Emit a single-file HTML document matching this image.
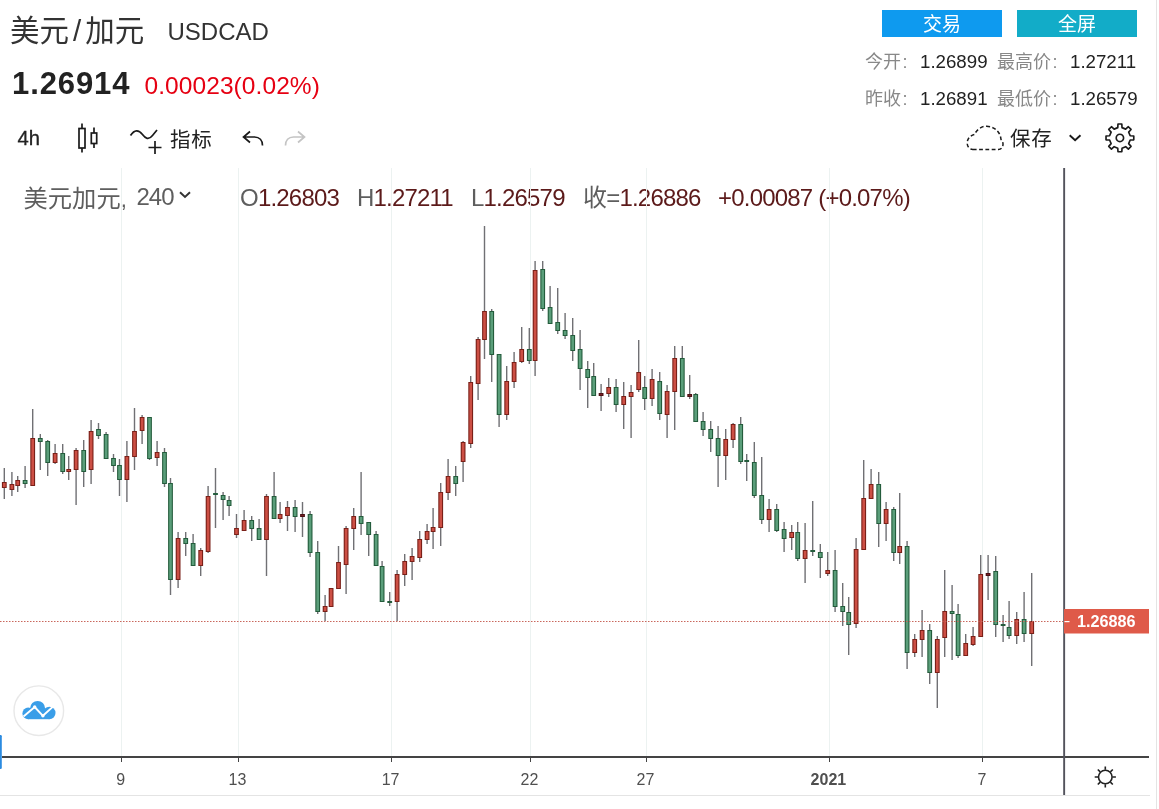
<!DOCTYPE html>
<html lang="zh-CN">
<head>
<meta charset="utf-8">
<title>美元/加元 USDCAD</title>
<style>
html,body{margin:0;padding:0;background:#fff;}
body{width:1159px;height:809px;position:relative;overflow:hidden;font-family:"Liberation Sans","Noto Sans CJK SC",sans-serif;color:#222;}
.abs{position:absolute;white-space:nowrap;line-height:1;}
.btn{position:absolute;top:10px;height:27px;width:120px;color:#fff;font-size:19px;line-height:29.6px;text-align:center;}
svg text{font-family:"Liberation Sans","Noto Sans CJK SC",sans-serif;}
.g{color:#888;}
</style>
</head>
<body>
<div class="abs" id="t1" style="left:10px;top:16px;font-size:29.5px;color:#333;">美元<span style="margin:0 4px 0 4px">/</span>加元</div>
<div class="abs" id="t2" style="left:167.5px;top:19.5px;font-size:24px;color:#333;">USDCAD</div>
<div class="abs" id="t3" style="left:12px;top:68px;font-size:31px;font-weight:bold;color:#222;letter-spacing:0.9px;">1.26914</div>
<div class="abs" id="t4" style="left:144.5px;top:73.5px;font-size:24.5px;color:#e60012;letter-spacing:0.08px;">0.00023(0.02%)</div>

<div class="btn" style="left:882px;background:#0e9aef;">交易</div>
<div class="btn" style="left:1017px;background:#12acc8;">全屏</div>

<div class="abs" id="r1a" style="left:865px;top:53.3px;font-size:18px;color:#888;">今开<span style="margin-left:1.5px">:</span></div>
<div class="abs" id="r1b" style="left:920px;top:53px;font-size:18.7px;color:#222;">1.26899</div>
<div class="abs" id="r1c" style="left:997px;top:53.3px;font-size:18px;color:#888;">最高价<span style="margin-left:1.5px">:</span></div>
<div class="abs" id="r1d" style="left:1070px;top:53px;font-size:18.7px;color:#222;">1.27211</div>
<div class="abs" id="r2a" style="left:865px;top:90.3px;font-size:18px;color:#888;">昨收<span style="margin-left:1.5px">:</span></div>
<div class="abs" id="r2b" style="left:920px;top:90px;font-size:18.7px;color:#222;">1.26891</div>
<div class="abs" id="r2c" style="left:997px;top:90.3px;font-size:18px;color:#888;">最低价<span style="margin-left:1.5px">:</span></div>
<div class="abs" id="r2d" style="left:1070px;top:90px;font-size:18.7px;color:#222;">1.26579</div>

<div class="abs" id="tb1" style="left:17.5px;top:128.3px;font-size:20.2px;-webkit-text-stroke:0.3px #222;color:#222;">4h</div>
<div class="abs" id="tb2" style="left:170px;top:129.5px;font-size:20.5px;letter-spacing:0.8px;color:#222;">指标</div>
<div class="abs" id="tb3" style="left:1010px;top:129.3px;font-size:20.5px;letter-spacing:0.8px;color:#222;">保存</div>

<div class="abs" id="lg1" style="left:23.5px;top:187.3px;font-size:24.3px;color:#5e5e5e;">美元加元<span style="font-size:22px">,</span></div>
<div class="abs" id="lg1b" style="left:136.5px;top:184.5px;font-size:24px;letter-spacing:-1px;color:#5e5e5e;">240</div>
<div class="abs" id="lg2" style="left:240px;top:185.9px;font-size:24px;letter-spacing:-0.8px;color:#5e5e5e;">O<span style="color:#5c1a1a">1.26803</span></div>
<div class="abs" id="lg3" style="left:357px;top:185.9px;font-size:24px;letter-spacing:-0.8px;color:#5e5e5e;">H<span style="color:#5c1a1a">1.27211</span></div>
<div class="abs" id="lg4" style="left:471px;top:185.9px;font-size:24px;letter-spacing:-0.8px;color:#5e5e5e;">L<span style="color:#5c1a1a">1.26579</span></div>
<div class="abs" id="lg5" style="left:583px;top:185.9px;font-size:24px;letter-spacing:-0.8px;color:#5e5e5e;">收=<span style="color:#5c1a1a">1.26886</span></div>
<div class="abs" id="lg6" style="left:718px;top:185.9px;font-size:24px;letter-spacing:-0.8px;color:#5c1a1a;">+0.00087 (+0.07%)</div>

<svg class="abs" style="left:0;top:0" width="1159" height="809" viewBox="0 0 1159 809">
<!-- grid -->
<rect x="121" y="168" width="1" height="589" fill="#ecf2f1"/>
<rect x="238" y="168" width="1" height="589" fill="#ecf2f1"/>
<rect x="391" y="168" width="1" height="589" fill="#ecf2f1"/>
<rect x="530" y="168" width="1" height="589" fill="#ecf2f1"/>
<rect x="646" y="168" width="1" height="589" fill="#ecf2f1"/>
<rect x="829" y="168" width="1" height="589" fill="#ecf2f1"/>
<rect x="982" y="168" width="1" height="589" fill="#ecf2f1"/>
<!-- candles -->
<g fill="#707074"><rect x="3.6" y="468" width="1.4" height="31"/>
<rect x="11.2" y="472" width="1.4" height="24"/>
<rect x="17.0" y="476" width="1.4" height="16"/>
<rect x="24.4" y="466" width="1.4" height="22"/>
<rect x="32.0" y="409" width="1.4" height="77"/>
<rect x="39.6" y="434" width="1.4" height="36"/>
<rect x="47.0" y="440" width="1.4" height="36"/>
<rect x="54.4" y="444" width="1.4" height="20"/>
<rect x="62.0" y="444" width="1.4" height="30"/>
<rect x="68.0" y="456" width="1.4" height="24"/>
<rect x="75.4" y="448" width="1.4" height="57"/>
<rect x="83.0" y="440" width="1.4" height="47"/>
<rect x="90.4" y="420" width="1.4" height="64"/>
<rect x="97.8" y="423" width="1.4" height="16"/>
<rect x="105.4" y="432" width="1.4" height="27"/>
<rect x="112.8" y="454" width="1.4" height="18"/>
<rect x="118.8" y="459" width="1.4" height="37"/>
<rect x="126.2" y="441" width="1.4" height="61"/>
<rect x="133.8" y="408" width="1.4" height="62"/>
<rect x="141.4" y="415" width="1.4" height="29"/>
<rect x="148.8" y="417" width="1.4" height="43"/>
<rect x="156.4" y="441" width="1.4" height="25"/>
<rect x="163.8" y="448" width="1.4" height="39"/>
<rect x="169.8" y="478" width="1.4" height="117"/>
<rect x="177.4" y="532" width="1.4" height="56"/>
<rect x="185.0" y="532" width="1.4" height="24"/>
<rect x="192.4" y="534" width="1.4" height="32"/>
<rect x="200.0" y="548" width="1.4" height="28"/>
<rect x="207.4" y="486" width="1.4" height="67"/>
<rect x="214.8" y="468" width="1.4" height="60"/>
<rect x="222.4" y="492" width="1.4" height="28"/>
<rect x="228.4" y="496" width="1.4" height="20"/>
<rect x="235.8" y="514" width="1.4" height="24"/>
<rect x="243.4" y="510" width="1.4" height="21"/>
<rect x="251.0" y="516" width="1.4" height="25"/>
<rect x="258.4" y="519" width="1.4" height="21"/>
<rect x="265.8" y="494" width="1.4" height="82"/>
<rect x="273.4" y="472" width="1.4" height="47"/>
<rect x="279.4" y="502" width="1.4" height="21"/>
<rect x="286.8" y="501" width="1.4" height="30"/>
<rect x="294.4" y="500" width="1.4" height="32"/>
<rect x="301.8" y="502" width="1.4" height="35"/>
<rect x="309.4" y="511" width="1.4" height="46"/>
<rect x="317.0" y="541" width="1.4" height="73"/>
<rect x="324.4" y="595" width="1.4" height="26"/>
<rect x="330.4" y="588" width="1.4" height="19"/>
<rect x="337.8" y="546" width="1.4" height="43"/>
<rect x="345.4" y="526" width="1.4" height="68"/>
<rect x="353.0" y="508" width="1.4" height="42"/>
<rect x="360.4" y="472" width="1.4" height="63"/>
<rect x="368.0" y="522" width="1.4" height="34"/>
<rect x="375.4" y="531" width="1.4" height="35"/>
<rect x="381.4" y="561" width="1.4" height="41"/>
<rect x="389.0" y="592" width="1.4" height="14"/>
<rect x="396.4" y="570" width="1.4" height="51"/>
<rect x="404.0" y="554" width="1.4" height="32"/>
<rect x="411.4" y="548" width="1.4" height="32"/>
<rect x="419.0" y="531" width="1.4" height="31"/>
<rect x="426.4" y="524" width="1.4" height="20"/>
<rect x="432.4" y="508" width="1.4" height="41"/>
<rect x="440.0" y="483" width="1.4" height="63"/>
<rect x="447.4" y="459" width="1.4" height="41"/>
<rect x="455.0" y="466" width="1.4" height="30"/>
<rect x="462.4" y="441" width="1.4" height="41"/>
<rect x="470.0" y="376" width="1.4" height="72"/>
<rect x="477.4" y="337" width="1.4" height="63"/>
<rect x="483.8" y="226" width="1.4" height="133"/>
<rect x="491.0" y="309" width="1.4" height="73"/>
<rect x="498.4" y="354" width="1.4" height="73"/>
<rect x="506.0" y="366" width="1.4" height="54"/>
<rect x="513.4" y="352" width="1.4" height="36"/>
<rect x="521.0" y="327" width="1.4" height="36"/>
<rect x="528.6" y="328" width="1.4" height="36"/>
<rect x="534.4" y="261" width="1.4" height="115"/>
<rect x="542.0" y="261" width="1.4" height="50"/>
<rect x="549.4" y="286" width="1.4" height="38"/>
<rect x="557.0" y="288" width="1.4" height="46"/>
<rect x="564.4" y="313" width="1.4" height="26"/>
<rect x="572.0" y="318" width="1.4" height="43"/>
<rect x="579.4" y="330" width="1.4" height="60"/>
<rect x="587.0" y="361" width="1.4" height="47"/>
<rect x="593.0" y="363" width="1.4" height="33"/>
<rect x="600.4" y="384" width="1.4" height="27"/>
<rect x="608.0" y="378" width="1.4" height="19"/>
<rect x="615.4" y="379" width="1.4" height="33"/>
<rect x="623.0" y="382" width="1.4" height="47"/>
<rect x="630.4" y="385" width="1.4" height="53"/>
<rect x="638.0" y="340" width="1.4" height="52"/>
<rect x="644.0" y="376" width="1.4" height="34"/>
<rect x="651.4" y="369" width="1.4" height="37"/>
<rect x="659.0" y="372" width="1.4" height="48"/>
<rect x="666.4" y="385" width="1.4" height="53"/>
<rect x="674.0" y="346" width="1.4" height="84"/>
<rect x="681.6" y="346" width="1.4" height="51"/>
<rect x="689.0" y="375" width="1.4" height="24"/>
<rect x="695.0" y="393" width="1.4" height="29"/>
<rect x="702.4" y="412" width="1.4" height="24"/>
<rect x="710.0" y="421" width="1.4" height="31"/>
<rect x="717.4" y="426" width="1.4" height="61"/>
<rect x="725.0" y="429" width="1.4" height="51"/>
<rect x="732.4" y="423" width="1.4" height="25"/>
<rect x="740.0" y="417" width="1.4" height="47"/>
<rect x="746.0" y="454" width="1.4" height="27"/>
<rect x="753.6" y="442" width="1.4" height="56"/>
<rect x="761.0" y="457" width="1.4" height="67"/>
<rect x="768.4" y="499" width="1.4" height="33"/>
<rect x="776.0" y="504" width="1.4" height="28"/>
<rect x="783.4" y="522" width="1.4" height="30"/>
<rect x="791.0" y="525" width="1.4" height="25"/>
<rect x="797.0" y="522" width="1.4" height="39"/>
<rect x="804.4" y="523" width="1.4" height="60"/>
<rect x="812.0" y="501" width="1.4" height="55"/>
<rect x="819.6" y="544" width="1.4" height="34"/>
<rect x="827.0" y="552" width="1.4" height="24"/>
<rect x="834.4" y="550" width="1.4" height="62"/>
<rect x="842.0" y="583" width="1.4" height="43"/>
<rect x="848.0" y="597" width="1.4" height="58"/>
<rect x="855.4" y="538" width="1.4" height="90"/>
<rect x="863.0" y="460" width="1.4" height="90"/>
<rect x="870.4" y="469" width="1.4" height="30"/>
<rect x="878.0" y="472" width="1.4" height="75"/>
<rect x="885.4" y="502" width="1.4" height="39"/>
<rect x="893.0" y="507" width="1.4" height="54"/>
<rect x="899.0" y="493" width="1.4" height="71"/>
<rect x="906.4" y="541" width="1.4" height="128"/>
<rect x="914.0" y="634" width="1.4" height="23"/>
<rect x="921.4" y="610" width="1.4" height="47"/>
<rect x="929.0" y="624" width="1.4" height="60"/>
<rect x="936.6" y="636" width="1.4" height="72"/>
<rect x="944.0" y="570" width="1.4" height="87"/>
<rect x="951.4" y="585" width="1.4" height="75"/>
<rect x="957.4" y="604" width="1.4" height="54"/>
<rect x="965.0" y="634" width="1.4" height="22"/>
<rect x="972.4" y="627" width="1.4" height="19"/>
<rect x="980.0" y="555" width="1.4" height="82"/>
<rect x="987.4" y="555" width="1.4" height="45"/>
<rect x="995.0" y="556" width="1.4" height="81"/>
<rect x="1002.4" y="615" width="1.4" height="27"/>
<rect x="1008.4" y="601" width="1.4" height="38"/>
<rect x="1016.0" y="612" width="1.4" height="32"/>
<rect x="1023.4" y="592" width="1.4" height="50"/>
<rect x="1031.0" y="573" width="1.4" height="93"/></g>
<rect x="1.9" y="482" width="4.8" height="6" fill="#7a2018"/>
<rect x="3.0" y="483" width="2.6" height="4" fill="#cc4f44"/>
<rect x="9.5" y="484" width="4.8" height="6" fill="#7a2018"/>
<rect x="10.6" y="485" width="2.6" height="4" fill="#cc4f44"/>
<rect x="15.3" y="480" width="4.8" height="6" fill="#7a2018"/>
<rect x="16.4" y="481" width="2.6" height="4" fill="#cc4f44"/>
<rect x="22.7" y="480" width="4.8" height="4" fill="#245c3c"/>
<rect x="23.8" y="481" width="2.6" height="2" fill="#5a9e7a"/>
<rect x="30.3" y="438" width="4.8" height="48" fill="#7a2018"/>
<rect x="31.4" y="439" width="2.6" height="46" fill="#cc4f44"/>
<rect x="37.9" y="438" width="4.8" height="4" fill="#245c3c"/>
<rect x="39.0" y="439" width="2.6" height="2" fill="#5a9e7a"/>
<rect x="45.3" y="441" width="4.8" height="22" fill="#245c3c"/>
<rect x="46.4" y="442" width="2.6" height="20" fill="#5a9e7a"/>
<rect x="52.7" y="453" width="4.8" height="10" fill="#7a2018"/>
<rect x="53.8" y="454" width="2.6" height="8" fill="#cc4f44"/>
<rect x="60.3" y="453" width="4.8" height="19" fill="#245c3c"/>
<rect x="61.4" y="454" width="2.6" height="17" fill="#5a9e7a"/>
<rect x="66.3" y="469" width="4.8" height="3" fill="#7a2018"/>
<rect x="67.4" y="470" width="2.6" height="1" fill="#cc4f44"/>
<rect x="73.7" y="450" width="4.8" height="20" fill="#7a2018"/>
<rect x="74.8" y="451" width="2.6" height="18" fill="#cc4f44"/>
<rect x="81.3" y="450" width="4.8" height="22" fill="#245c3c"/>
<rect x="82.4" y="451" width="2.6" height="20" fill="#5a9e7a"/>
<rect x="88.7" y="431" width="4.8" height="39" fill="#7a2018"/>
<rect x="89.8" y="432" width="2.6" height="37" fill="#cc4f44"/>
<rect x="96.1" y="429" width="4.8" height="7" fill="#245c3c"/>
<rect x="97.2" y="430" width="2.6" height="5" fill="#5a9e7a"/>
<rect x="103.7" y="434" width="4.8" height="25" fill="#245c3c"/>
<rect x="104.8" y="435" width="2.6" height="23" fill="#5a9e7a"/>
<rect x="111.1" y="458" width="4.8" height="8" fill="#245c3c"/>
<rect x="112.2" y="459" width="2.6" height="6" fill="#5a9e7a"/>
<rect x="117.1" y="465" width="4.8" height="15" fill="#245c3c"/>
<rect x="118.2" y="466" width="2.6" height="13" fill="#5a9e7a"/>
<rect x="124.5" y="456" width="4.8" height="24" fill="#7a2018"/>
<rect x="125.6" y="457" width="2.6" height="22" fill="#cc4f44"/>
<rect x="132.1" y="431" width="4.8" height="26" fill="#7a2018"/>
<rect x="133.2" y="432" width="2.6" height="24" fill="#cc4f44"/>
<rect x="139.7" y="417" width="4.8" height="14" fill="#7a2018"/>
<rect x="140.8" y="418" width="2.6" height="12" fill="#cc4f44"/>
<rect x="147.1" y="417" width="4.8" height="42" fill="#245c3c"/>
<rect x="148.2" y="418" width="2.6" height="40" fill="#5a9e7a"/>
<rect x="154.7" y="452" width="4.8" height="6" fill="#7a2018"/>
<rect x="155.8" y="453" width="2.6" height="4" fill="#cc4f44"/>
<rect x="162.1" y="452" width="4.8" height="32" fill="#245c3c"/>
<rect x="163.2" y="453" width="2.6" height="30" fill="#5a9e7a"/>
<rect x="168.1" y="483" width="4.8" height="97" fill="#245c3c"/>
<rect x="169.2" y="484" width="2.6" height="95" fill="#5a9e7a"/>
<rect x="175.7" y="538" width="4.8" height="42" fill="#7a2018"/>
<rect x="176.8" y="539" width="2.6" height="40" fill="#cc4f44"/>
<rect x="183.3" y="538" width="4.8" height="6" fill="#245c3c"/>
<rect x="184.4" y="539" width="2.6" height="4" fill="#5a9e7a"/>
<rect x="190.7" y="543" width="4.8" height="23" fill="#245c3c"/>
<rect x="191.8" y="544" width="2.6" height="21" fill="#5a9e7a"/>
<rect x="198.3" y="550" width="4.8" height="16" fill="#7a2018"/>
<rect x="199.4" y="551" width="2.6" height="14" fill="#cc4f44"/>
<rect x="205.7" y="496" width="4.8" height="56" fill="#7a2018"/>
<rect x="206.8" y="497" width="2.6" height="54" fill="#cc4f44"/>
<rect x="213.1" y="493" width="4.8" height="2" fill="#245c3c"/>
<rect x="220.7" y="495" width="4.8" height="5" fill="#245c3c"/>
<rect x="221.8" y="496" width="2.6" height="3" fill="#5a9e7a"/>
<rect x="226.7" y="500" width="4.8" height="6" fill="#245c3c"/>
<rect x="227.8" y="501" width="2.6" height="4" fill="#5a9e7a"/>
<rect x="234.1" y="528" width="4.8" height="7" fill="#7a2018"/>
<rect x="235.2" y="529" width="2.6" height="5" fill="#cc4f44"/>
<rect x="241.7" y="520" width="4.8" height="11" fill="#7a2018"/>
<rect x="242.8" y="521" width="2.6" height="9" fill="#cc4f44"/>
<rect x="249.3" y="520" width="4.8" height="9" fill="#245c3c"/>
<rect x="250.4" y="521" width="2.6" height="7" fill="#5a9e7a"/>
<rect x="256.7" y="528" width="4.8" height="12" fill="#245c3c"/>
<rect x="257.8" y="529" width="2.6" height="10" fill="#5a9e7a"/>
<rect x="264.1" y="496" width="4.8" height="44" fill="#7a2018"/>
<rect x="265.2" y="497" width="2.6" height="42" fill="#cc4f44"/>
<rect x="271.7" y="496" width="4.8" height="23" fill="#245c3c"/>
<rect x="272.8" y="497" width="2.6" height="21" fill="#5a9e7a"/>
<rect x="277.7" y="514" width="4.8" height="5" fill="#7a2018"/>
<rect x="278.8" y="515" width="2.6" height="3" fill="#cc4f44"/>
<rect x="285.1" y="507" width="4.8" height="9" fill="#7a2018"/>
<rect x="286.2" y="508" width="2.6" height="7" fill="#cc4f44"/>
<rect x="292.7" y="507" width="4.8" height="10" fill="#245c3c"/>
<rect x="293.8" y="508" width="2.6" height="8" fill="#5a9e7a"/>
<rect x="300.1" y="514" width="4.8" height="3" fill="#4a1014"/>
<rect x="301.2" y="515" width="2.6" height="1" fill="#7a1f24"/>
<rect x="307.7" y="514" width="4.8" height="39" fill="#245c3c"/>
<rect x="308.8" y="515" width="2.6" height="37" fill="#5a9e7a"/>
<rect x="315.3" y="552" width="4.8" height="60" fill="#245c3c"/>
<rect x="316.4" y="553" width="2.6" height="58" fill="#5a9e7a"/>
<rect x="322.7" y="606" width="4.8" height="6" fill="#7a2018"/>
<rect x="323.8" y="607" width="2.6" height="4" fill="#cc4f44"/>
<rect x="328.7" y="588" width="4.8" height="19" fill="#7a2018"/>
<rect x="329.8" y="589" width="2.6" height="17" fill="#cc4f44"/>
<rect x="336.1" y="562" width="4.8" height="27" fill="#7a2018"/>
<rect x="337.2" y="563" width="2.6" height="25" fill="#cc4f44"/>
<rect x="343.7" y="528" width="4.8" height="37" fill="#7a2018"/>
<rect x="344.8" y="529" width="2.6" height="35" fill="#cc4f44"/>
<rect x="351.3" y="516" width="4.8" height="13" fill="#7a2018"/>
<rect x="352.4" y="517" width="2.6" height="11" fill="#cc4f44"/>
<rect x="358.7" y="516" width="4.8" height="8" fill="#245c3c"/>
<rect x="359.8" y="517" width="2.6" height="6" fill="#5a9e7a"/>
<rect x="366.3" y="522" width="4.8" height="13" fill="#245c3c"/>
<rect x="367.4" y="523" width="2.6" height="11" fill="#5a9e7a"/>
<rect x="373.7" y="534" width="4.8" height="32" fill="#245c3c"/>
<rect x="374.8" y="535" width="2.6" height="30" fill="#5a9e7a"/>
<rect x="379.7" y="566" width="4.8" height="36" fill="#245c3c"/>
<rect x="380.8" y="567" width="2.6" height="34" fill="#5a9e7a"/>
<rect x="387.3" y="601" width="4.8" height="2" fill="#245c3c"/>
<rect x="394.7" y="574" width="4.8" height="28" fill="#7a2018"/>
<rect x="395.8" y="575" width="2.6" height="26" fill="#cc4f44"/>
<rect x="402.3" y="561" width="4.8" height="14" fill="#7a2018"/>
<rect x="403.4" y="562" width="2.6" height="12" fill="#cc4f44"/>
<rect x="409.7" y="556" width="4.8" height="6" fill="#7a2018"/>
<rect x="410.8" y="557" width="2.6" height="4" fill="#cc4f44"/>
<rect x="417.3" y="539" width="4.8" height="19" fill="#7a2018"/>
<rect x="418.4" y="540" width="2.6" height="17" fill="#cc4f44"/>
<rect x="424.7" y="531" width="4.8" height="9" fill="#7a2018"/>
<rect x="425.8" y="532" width="2.6" height="7" fill="#cc4f44"/>
<rect x="430.7" y="527" width="4.8" height="5" fill="#7a2018"/>
<rect x="431.8" y="528" width="2.6" height="3" fill="#cc4f44"/>
<rect x="438.3" y="492" width="4.8" height="36" fill="#7a2018"/>
<rect x="439.4" y="493" width="2.6" height="34" fill="#cc4f44"/>
<rect x="445.7" y="476" width="4.8" height="17" fill="#7a2018"/>
<rect x="446.8" y="477" width="2.6" height="15" fill="#cc4f44"/>
<rect x="453.3" y="476" width="4.8" height="8" fill="#245c3c"/>
<rect x="454.4" y="477" width="2.6" height="6" fill="#5a9e7a"/>
<rect x="460.7" y="442" width="4.8" height="20" fill="#7a2018"/>
<rect x="461.8" y="443" width="2.6" height="18" fill="#cc4f44"/>
<rect x="468.3" y="382" width="4.8" height="62" fill="#7a2018"/>
<rect x="469.4" y="383" width="2.6" height="60" fill="#cc4f44"/>
<rect x="475.7" y="339" width="4.8" height="45" fill="#7a2018"/>
<rect x="476.8" y="340" width="2.6" height="43" fill="#cc4f44"/>
<rect x="482.1" y="311" width="4.8" height="29" fill="#7a2018"/>
<rect x="483.2" y="312" width="2.6" height="27" fill="#cc4f44"/>
<rect x="489.3" y="311" width="4.8" height="44" fill="#245c3c"/>
<rect x="490.4" y="312" width="2.6" height="42" fill="#5a9e7a"/>
<rect x="496.7" y="354" width="4.8" height="61" fill="#245c3c"/>
<rect x="497.8" y="355" width="2.6" height="59" fill="#5a9e7a"/>
<rect x="504.3" y="381" width="4.8" height="34" fill="#7a2018"/>
<rect x="505.4" y="382" width="2.6" height="32" fill="#cc4f44"/>
<rect x="511.7" y="362" width="4.8" height="20" fill="#7a2018"/>
<rect x="512.8" y="363" width="2.6" height="18" fill="#cc4f44"/>
<rect x="519.3" y="349" width="4.8" height="13" fill="#7a2018"/>
<rect x="520.4" y="350" width="2.6" height="11" fill="#cc4f44"/>
<rect x="526.9" y="349" width="4.8" height="12" fill="#245c3c"/>
<rect x="528.0" y="350" width="2.6" height="10" fill="#5a9e7a"/>
<rect x="532.7" y="270" width="4.8" height="91" fill="#7a2018"/>
<rect x="533.8" y="271" width="2.6" height="89" fill="#cc4f44"/>
<rect x="540.3" y="269" width="4.8" height="40" fill="#245c3c"/>
<rect x="541.4" y="270" width="2.6" height="38" fill="#5a9e7a"/>
<rect x="547.7" y="307" width="4.8" height="17" fill="#245c3c"/>
<rect x="548.8" y="308" width="2.6" height="15" fill="#5a9e7a"/>
<rect x="555.3" y="322" width="4.8" height="9" fill="#245c3c"/>
<rect x="556.4" y="323" width="2.6" height="7" fill="#5a9e7a"/>
<rect x="562.7" y="330" width="4.8" height="6" fill="#245c3c"/>
<rect x="563.8" y="331" width="2.6" height="4" fill="#5a9e7a"/>
<rect x="570.3" y="335" width="4.8" height="16" fill="#245c3c"/>
<rect x="571.4" y="336" width="2.6" height="14" fill="#5a9e7a"/>
<rect x="577.7" y="349" width="4.8" height="20" fill="#245c3c"/>
<rect x="578.8" y="350" width="2.6" height="18" fill="#5a9e7a"/>
<rect x="585.3" y="369" width="4.8" height="9" fill="#245c3c"/>
<rect x="586.4" y="370" width="2.6" height="7" fill="#5a9e7a"/>
<rect x="591.3" y="376" width="4.8" height="20" fill="#245c3c"/>
<rect x="592.4" y="377" width="2.6" height="18" fill="#5a9e7a"/>
<rect x="598.7" y="393" width="4.8" height="3" fill="#4a1014"/>
<rect x="599.8" y="394" width="2.6" height="1" fill="#7a1f24"/>
<rect x="606.3" y="387" width="4.8" height="7" fill="#7a2018"/>
<rect x="607.4" y="388" width="2.6" height="5" fill="#cc4f44"/>
<rect x="613.7" y="387" width="4.8" height="18" fill="#245c3c"/>
<rect x="614.8" y="388" width="2.6" height="16" fill="#5a9e7a"/>
<rect x="621.3" y="396" width="4.8" height="9" fill="#7a2018"/>
<rect x="622.4" y="397" width="2.6" height="7" fill="#cc4f44"/>
<rect x="628.7" y="392" width="4.8" height="5" fill="#7a2018"/>
<rect x="629.8" y="393" width="2.6" height="3" fill="#cc4f44"/>
<rect x="636.3" y="372" width="4.8" height="18" fill="#7a2018"/>
<rect x="637.4" y="373" width="2.6" height="16" fill="#cc4f44"/>
<rect x="642.3" y="387" width="4.8" height="12" fill="#245c3c"/>
<rect x="643.4" y="388" width="2.6" height="10" fill="#5a9e7a"/>
<rect x="649.7" y="379" width="4.8" height="20" fill="#7a2018"/>
<rect x="650.8" y="380" width="2.6" height="18" fill="#cc4f44"/>
<rect x="657.3" y="381" width="4.8" height="33" fill="#245c3c"/>
<rect x="658.4" y="382" width="2.6" height="31" fill="#5a9e7a"/>
<rect x="664.7" y="391" width="4.8" height="24" fill="#7a2018"/>
<rect x="665.8" y="392" width="2.6" height="22" fill="#cc4f44"/>
<rect x="672.3" y="358" width="4.8" height="34" fill="#7a2018"/>
<rect x="673.4" y="359" width="2.6" height="32" fill="#cc4f44"/>
<rect x="679.9" y="358" width="4.8" height="39" fill="#245c3c"/>
<rect x="681.0" y="359" width="2.6" height="37" fill="#5a9e7a"/>
<rect x="687.3" y="394" width="4.8" height="3" fill="#4a1014"/>
<rect x="688.4" y="395" width="2.6" height="1" fill="#7a1f24"/>
<rect x="693.3" y="394" width="4.8" height="28" fill="#245c3c"/>
<rect x="694.4" y="395" width="2.6" height="26" fill="#5a9e7a"/>
<rect x="700.7" y="421" width="4.8" height="9" fill="#245c3c"/>
<rect x="701.8" y="422" width="2.6" height="7" fill="#5a9e7a"/>
<rect x="708.3" y="429" width="4.8" height="10" fill="#245c3c"/>
<rect x="709.4" y="430" width="2.6" height="8" fill="#5a9e7a"/>
<rect x="715.7" y="438" width="4.8" height="18" fill="#245c3c"/>
<rect x="716.8" y="439" width="2.6" height="16" fill="#5a9e7a"/>
<rect x="723.3" y="439" width="4.8" height="17" fill="#7a2018"/>
<rect x="724.4" y="440" width="2.6" height="15" fill="#cc4f44"/>
<rect x="730.7" y="424" width="4.8" height="16" fill="#7a2018"/>
<rect x="731.8" y="425" width="2.6" height="14" fill="#cc4f44"/>
<rect x="738.3" y="424" width="4.8" height="38" fill="#245c3c"/>
<rect x="739.4" y="425" width="2.6" height="36" fill="#5a9e7a"/>
<rect x="744.3" y="460" width="4.8" height="2" fill="#245c3c"/>
<rect x="751.9" y="462" width="4.8" height="34" fill="#245c3c"/>
<rect x="753.0" y="463" width="2.6" height="32" fill="#5a9e7a"/>
<rect x="759.3" y="495" width="4.8" height="25" fill="#245c3c"/>
<rect x="760.4" y="496" width="2.6" height="23" fill="#5a9e7a"/>
<rect x="766.7" y="509" width="4.8" height="11" fill="#7a2018"/>
<rect x="767.8" y="510" width="2.6" height="9" fill="#cc4f44"/>
<rect x="774.3" y="509" width="4.8" height="22" fill="#245c3c"/>
<rect x="775.4" y="510" width="2.6" height="20" fill="#5a9e7a"/>
<rect x="781.7" y="529" width="4.8" height="10" fill="#245c3c"/>
<rect x="782.8" y="530" width="2.6" height="8" fill="#5a9e7a"/>
<rect x="789.3" y="532" width="4.8" height="6" fill="#7a2018"/>
<rect x="790.4" y="533" width="2.6" height="4" fill="#cc4f44"/>
<rect x="795.3" y="532" width="4.8" height="27" fill="#245c3c"/>
<rect x="796.4" y="533" width="2.6" height="25" fill="#5a9e7a"/>
<rect x="802.7" y="550" width="4.8" height="9" fill="#7a2018"/>
<rect x="803.8" y="551" width="2.6" height="7" fill="#cc4f44"/>
<rect x="810.3" y="550" width="4.8" height="2" fill="#245c3c"/>
<rect x="817.9" y="552" width="4.8" height="6" fill="#245c3c"/>
<rect x="819.0" y="553" width="2.6" height="4" fill="#5a9e7a"/>
<rect x="825.3" y="570" width="4.8" height="4" fill="#7a2018"/>
<rect x="826.4" y="571" width="2.6" height="2" fill="#cc4f44"/>
<rect x="832.7" y="570" width="4.8" height="37" fill="#245c3c"/>
<rect x="833.8" y="571" width="2.6" height="35" fill="#5a9e7a"/>
<rect x="840.3" y="606" width="4.8" height="6" fill="#245c3c"/>
<rect x="841.4" y="607" width="2.6" height="4" fill="#5a9e7a"/>
<rect x="846.3" y="612" width="4.8" height="13" fill="#245c3c"/>
<rect x="847.4" y="613" width="2.6" height="11" fill="#5a9e7a"/>
<rect x="853.7" y="549" width="4.8" height="75" fill="#7a2018"/>
<rect x="854.8" y="550" width="2.6" height="73" fill="#cc4f44"/>
<rect x="861.3" y="498" width="4.8" height="52" fill="#7a2018"/>
<rect x="862.4" y="499" width="2.6" height="50" fill="#cc4f44"/>
<rect x="868.7" y="484" width="4.8" height="15" fill="#7a2018"/>
<rect x="869.8" y="485" width="2.6" height="13" fill="#cc4f44"/>
<rect x="876.3" y="484" width="4.8" height="40" fill="#245c3c"/>
<rect x="877.4" y="485" width="2.6" height="38" fill="#5a9e7a"/>
<rect x="883.7" y="509" width="4.8" height="15" fill="#7a2018"/>
<rect x="884.8" y="510" width="2.6" height="13" fill="#cc4f44"/>
<rect x="891.3" y="509" width="4.8" height="44" fill="#245c3c"/>
<rect x="892.4" y="510" width="2.6" height="42" fill="#5a9e7a"/>
<rect x="897.3" y="546" width="4.8" height="7" fill="#7a2018"/>
<rect x="898.4" y="547" width="2.6" height="5" fill="#cc4f44"/>
<rect x="904.7" y="546" width="4.8" height="107" fill="#245c3c"/>
<rect x="905.8" y="547" width="2.6" height="105" fill="#5a9e7a"/>
<rect x="912.3" y="639" width="4.8" height="14" fill="#7a2018"/>
<rect x="913.4" y="640" width="2.6" height="12" fill="#cc4f44"/>
<rect x="919.7" y="630" width="4.8" height="10" fill="#7a2018"/>
<rect x="920.8" y="631" width="2.6" height="8" fill="#cc4f44"/>
<rect x="927.3" y="630" width="4.8" height="43" fill="#245c3c"/>
<rect x="928.4" y="631" width="2.6" height="41" fill="#5a9e7a"/>
<rect x="934.9" y="639" width="4.8" height="34" fill="#7a2018"/>
<rect x="936.0" y="640" width="2.6" height="32" fill="#cc4f44"/>
<rect x="942.3" y="611" width="4.8" height="27" fill="#7a2018"/>
<rect x="943.4" y="612" width="2.6" height="25" fill="#cc4f44"/>
<rect x="949.7" y="611" width="4.8" height="3" fill="#245c3c"/>
<rect x="950.8" y="612" width="2.6" height="1" fill="#5a9e7a"/>
<rect x="955.7" y="614" width="4.8" height="42" fill="#245c3c"/>
<rect x="956.8" y="615" width="2.6" height="40" fill="#5a9e7a"/>
<rect x="963.3" y="643" width="4.8" height="13" fill="#7a2018"/>
<rect x="964.4" y="644" width="2.6" height="11" fill="#cc4f44"/>
<rect x="970.7" y="636" width="4.8" height="9" fill="#7a2018"/>
<rect x="971.8" y="637" width="2.6" height="7" fill="#cc4f44"/>
<rect x="978.3" y="574" width="4.8" height="63" fill="#7a2018"/>
<rect x="979.4" y="575" width="2.6" height="61" fill="#cc4f44"/>
<rect x="985.7" y="573" width="4.8" height="3" fill="#4a1014"/>
<rect x="986.8" y="574" width="2.6" height="1" fill="#7a1f24"/>
<rect x="993.3" y="571" width="4.8" height="54" fill="#245c3c"/>
<rect x="994.4" y="572" width="2.6" height="52" fill="#5a9e7a"/>
<rect x="1000.7" y="624" width="4.8" height="2" fill="#245c3c"/>
<rect x="1006.7" y="627" width="4.8" height="9" fill="#245c3c"/>
<rect x="1007.8" y="628" width="2.6" height="7" fill="#5a9e7a"/>
<rect x="1014.3" y="619" width="4.8" height="17" fill="#7a2018"/>
<rect x="1015.4" y="620" width="2.6" height="15" fill="#cc4f44"/>
<rect x="1021.7" y="619" width="4.8" height="15" fill="#245c3c"/>
<rect x="1022.8" y="620" width="2.6" height="13" fill="#5a9e7a"/>
<rect x="1029.3" y="621" width="4.8" height="13" fill="#7a2018"/>
<rect x="1030.4" y="622" width="2.6" height="11" fill="#cc4f44"/>
<!-- price line -->
<line x1="0" y1="621.5" x2="1063" y2="621.5" stroke="#c9675c" stroke-width="1" stroke-dasharray="1.5 1.5"/>
<!-- axes -->
<rect x="2" y="756" width="1147" height="2" fill="#444"/>
<rect x="1063.2" y="168" width="1.9" height="627" fill="#53535c"/>
<rect x="0" y="795" width="1150" height="1" fill="#e4e4e4"/>
<rect x="1156" y="0" width="1" height="809" fill="#e4e4e4"/>
<rect x="121" y="757" width="1" height="5" fill="#444"/>
<rect x="238" y="757" width="1" height="5" fill="#444"/>
<rect x="391" y="757" width="1" height="5" fill="#444"/>
<rect x="530" y="757" width="1" height="5" fill="#444"/>
<rect x="646" y="757" width="1" height="5" fill="#444"/>
<rect x="829" y="757" width="1" height="5" fill="#444"/>
<rect x="982" y="757" width="1" height="5" fill="#444"/>
<text x="120.6" y="785" text-anchor="middle" font-size="16" fill="#4f4f4f" >9</text>
<text x="237.4" y="785" text-anchor="middle" font-size="16" fill="#4f4f4f" >13</text>
<text x="390.6" y="785" text-anchor="middle" font-size="16" fill="#4f4f4f" >17</text>
<text x="529.5" y="785" text-anchor="middle" font-size="16" fill="#4f4f4f" >22</text>
<text x="645.4" y="785" text-anchor="middle" font-size="16" fill="#4f4f4f" >27</text>
<text x="828.4" y="785" text-anchor="middle" font-size="16" fill="#4f4f4f" font-weight="bold">2021</text>
<text x="982" y="785" text-anchor="middle" font-size="16" fill="#4f4f4f" >7</text>
<!-- price label -->
<rect x="1064" y="609" width="85" height="24.5" fill="#df5a49"/>
<rect x="1064.5" y="621" width="5" height="1.2" fill="#fff"/>
<text x="1077" y="627.4" font-size="16.2" font-weight="bold" fill="#fff">1.26886</text>
<!-- left blue bar -->
<path d="M0 735 h0.6 a1.2 1.2 0 0 1 1.2 1.2 v31.6 a1.2 1.2 0 0 1 -1.2 1.2 h-0.6 z" fill="#2b8be0"/>
<!-- logo -->
<circle cx="38.8" cy="710.7" r="24.8" fill="#fff" stroke="#e8e8e8" stroke-width="1.4"/>
<g id="logo">
<g fill="#3a9ee8"><circle cx="37.6" cy="708.4" r="7.5"/><circle cx="28.2" cy="713.4" r="5.8"/><circle cx="49.3" cy="713" r="6.2"/><rect x="28.2" y="710" width="21.1" height="9.2"/></g>
<path d="M23.5 716.5 L34.7 707 L42.9 715.8 L53 706.6" fill="none" stroke="#fff" stroke-width="1.9" stroke-linejoin="round"/>
<circle cx="34.7" cy="707" r="1.7" fill="#fff"/><circle cx="42.9" cy="715.8" r="1.7" fill="#fff"/>
</g>
<!-- toolbar icons -->
<g fill="none" stroke="#1a1a1a" stroke-width="1.7">
<rect x="79" y="128.5" width="6" height="19.5"/><path d="M82 123.5v5M82 148v4.5"/>
<rect x="91.3" y="133" width="5.4" height="10.5"/><path d="M94 127.5v5.5M94 143.5v4.5"/>
<path d="M130.5 135.5 c4 -6 8 -6 12 -1 c3 4 6 6 10 1 l4.5 -5.5"/>
<path d="M155 141v13M148.5 147.5h13"/>
<path d="M250 131.5 l-6.5 5.5 l6.5 5.5 M243.5 137 h11 c5 0 8 3.5 8 8.5"/>
</g>
<g fill="none" stroke="#c4c4c4" stroke-width="1.7">
<path d="M298 131.5 l6.5 5.5 l-6.5 5.5 M304.5 137 h-11 c-5 0 -8 3.5 -8 8.5"/>
</g>
<!-- legend chevron -->
<path d="M180 192.3 l5 4.6 l5 -4.6" fill="none" stroke="#333" stroke-width="2"/>
<!-- cloud dashed -->
<path d="M972.8 149.4 H998.4 C1001.5 149.4 1003 147 1003 144.2 C1003 142 1002.2 140.6 1001 139.5 C1000.5 134 997 127 986.5 126.2 C981 126.2 976.5 130 974.5 134.5 C970 135.5 967.2 139 967.2 143 C967.2 146.5 969.5 149.4 972.8 149.4 Z" fill="none" stroke="#1a1a1a" stroke-width="1.5" stroke-dasharray="3.8 2.5"/>
<path d="M1069.7 135.2 l5.4 5 l5.4 -5" fill="none" stroke="#1a1a1a" stroke-width="1.9"/>
<!-- gear -->
<g id="gear" transform="translate(1119.9 137.9)" fill="none" stroke="#1a1a1a" stroke-width="1.65">
<path d="M10.28 -2.13 L13.87 -1.92 L13.87 1.92 L10.28 2.13 L8.78 5.76 L11.16 8.45 L8.45 11.16 L5.76 8.78 L2.13 10.28 L1.92 13.87 L-1.92 13.87 L-2.13 10.28 L-5.76 8.78 L-8.45 11.16 L-11.16 8.45 L-8.78 5.76 L-10.28 2.13 L-13.87 1.92 L-13.87 -1.92 L-10.28 -2.13 L-8.78 -5.76 L-11.16 -8.45 L-8.45 -11.16 L-5.76 -8.78 L-2.13 -10.28 L-1.92 -13.87 L1.92 -13.87 L2.13 -10.28 L5.76 -8.78 L8.45 -11.16 L11.16 -8.45 L8.78 -5.76 Z" stroke-linejoin="round"/>
<circle r="3.7"/>
</g>
<!-- bottom right sun -->
<g transform="translate(1105.3 777)" fill="none" stroke="#222" stroke-width="1.6">
<circle r="6.8"/>
<path d="M7.20 0.00 L10.60 0.00 M5.09 5.09 L7.50 7.50 M0.00 7.20 L0.00 10.60 M-5.09 5.09 L-7.50 7.50 M-7.20 0.00 L-10.60 0.00 M-5.09 -5.09 L-7.50 -7.50 M-0.00 -7.20 L-0.00 -10.60 M5.09 -5.09 L7.50 -7.50 "/>
</g>
</svg>
</body>
</html>
